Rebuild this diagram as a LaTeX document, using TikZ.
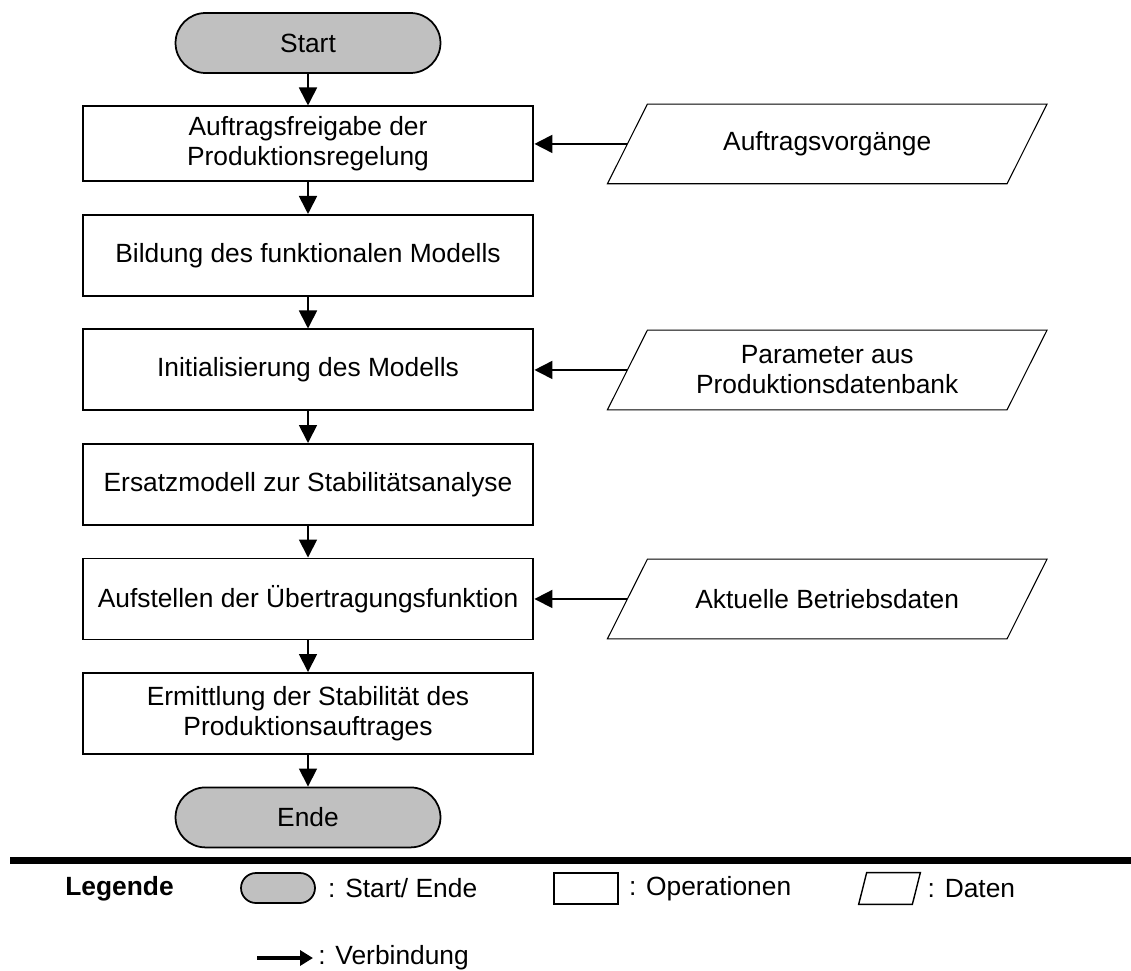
\documentclass[tikz,border=0pt]{standalone}
\usepackage{fontspec}
\setmainfont{Liberation Sans}
\usepackage{xcolor}
\usetikzlibrary{arrows.meta, positioning}
\definecolor{termgray}{RGB}{192,192,192}

\begin{document}
\begin{tikzpicture}[>={Triangle[length=0.36cm, width=0.36cm]}, node distance=0.632cm,
    x=0.02cm, y=-0.02cm,
    font=\fontsize{15}{17}\selectfont,
    terminal/.style={draw, line width=1pt, fill=termgray, rounded corners=0.6cm,
        minimum width=5.3cm, minimum height=1.2cm},
    operation/.style={draw, line width=1.1pt, minimum width=9.02cm,
        minimum height=1.62cm, align=center},
    data/.style={minimum width=7.98cm, minimum height=1.58cm, align=center},
    dataedge/.style={line width=0.6pt},
    flow/.style={->, line width=1pt},
    legtext/.style={inner sep=0pt, anchor=west}]

    \useasboundingbox (0,0) rectangle (1131,970);

    % Ablauf
    \node[terminal] (start) at (308,43) {Start};
    \node[operation, below=of start, minimum height=1.5cm] (op1) {Auftragsfreigabe der\\Produktionsregelung};
    \node[operation, below=of op1] (op2) {Bildung des funktionalen Modells};
    \node[operation, below=of op2] (op3) {Initialisierung des Modells};
    \node[operation, below=of op3] (op4) {Ersatzmodell zur Stabilitätsanalyse};
    \node[operation, below=of op4] (op5) {Aufstellen der Übertragungsfunktion};
    \node[operation, below=of op5] (op6) {Ermittlung der Stabilität des\\Produktionsauftrages};
    \node[terminal, below=of op6] (ende) {Ende};

    % Daten (Parallelogramme um die Knoten)
    \node[data, right=1.86cm of op1] (dat1) {Auftragsvorgänge};
    \node[data, right=1.86cm of op3] (dat2) {Parameter aus\\Produktionsdatenbank};
    \node[data, right=1.86cm of op5] (dat3) {Aktuelle Betriebsdaten};
    \foreach \d in {dat1, dat2, dat3}
        \draw[dataedge] ([xshift=-0.4cm]\d.south west) -- ([xshift=0.4cm]\d.north west)
            -- ([xshift=0.4cm]\d.north east) -- ([xshift=-0.4cm]\d.south east) -- cycle;

    \draw[flow] (start) -- (op1);
    \draw[flow] (op1) -- (op2);
    \draw[flow] (op2) -- (op3);
    \draw[flow] (op3) -- (op4);
    \draw[flow] (op4) -- (op5);
    \draw[flow] (op5) -- (op6);
    \draw[flow] (op6) -- (ende);

    \draw[flow] (dat1.west) -- (op1.east);
    \draw[flow] (dat2.west) -- (op3.east);
    \draw[flow] (dat3.west) -- (op5.east);

    % Legende
    \draw[line width=4pt] (10,860.5) -- (1131,860.5);

    \node[legtext, font=\bfseries\fontsize{15}{17}\selectfont] (legtitle) at (65,889) {Legende};

    \node[terminal, minimum width=1.48cm, minimum height=0.6cm, rounded corners=0.3cm] (legterm) at (278,888) {};
    \node[legtext, right=0.24cm of legterm] (legtermtxt) {: Start/ Ende};

    \node[operation, line width=0.8pt, minimum width=1.28cm, minimum height=0.62cm] (legop) at (586,888.5) {};
    \node[legtext, right=0.2cm of legop] (legoptxt) {: Operationen};

    \node[data, minimum width=1.06cm, minimum height=0.62cm] (legdat) at (889.5,888.5) {};
    \draw[dataedge, line width=0.8pt] ([xshift=-0.08cm]legdat.south west) -- ([xshift=0.08cm]legdat.north west)
        -- ([xshift=0.08cm]legdat.north east) -- ([xshift=-0.08cm]legdat.south east) -- cycle;
    \node[legtext, right=0.22cm of legdat] (legdattxt) {: Daten};

    \coordinate (legtail) at (257,958);
    \node[legtext] (legflowtxt) at (318,958) {: Verbindung};
    \draw[-{Triangle[length=0.26cm, width=0.3cm]}, line width=2.5pt, shorten >=0.1cm] (legtail) -- (legflowtxt.west);
\end{tikzpicture}
\end{document}
